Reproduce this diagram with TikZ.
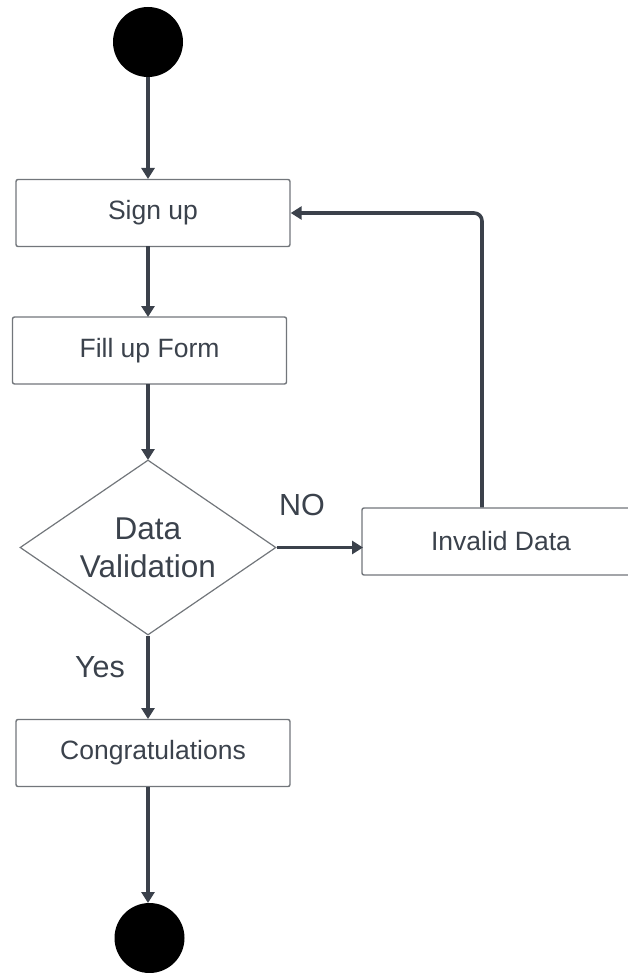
\documentclass[tikz,border=0pt]{standalone}
\usepackage{fontspec}
\setmainfont{Liberation Sans}
\usetikzlibrary{shapes.geometric,arrows.meta}
\definecolor{lineC}{HTML}{3B414B}
\definecolor{boxC}{HTML}{72767B}
\definecolor{txtC}{HTML}{3B424C}
\begin{document}
\begin{tikzpicture}[x=1pt,y=-1pt,
  actbox/.style={draw=boxC,line width=1.4pt,rounded corners=2pt,fill=white,
    minimum width=274pt,minimum height=67pt,inner sep=0pt,
    font=\fontsize{26.5}{30}\selectfont,text=txtC},
  dot/.style={circle,fill=black,draw=none,minimum size=70pt,inner sep=0pt},
  conn/.style={draw=lineC,line width=3.6pt,-{Triangle[length=11pt,width=13pt]}},
  lbl/.style={font=\fontsize{30.5}{34}\selectfont,text=txtC}]
\useasboundingbox (0,0) rectangle (627,973);
\node[dot] (start) at (148,42) {};
\node[actbox] (signup) at (153,213) {Sign up};
\node[actbox] (fill) at (149.5,350.5) {Fill up Form};
\node[diamond,draw=boxC,line width=1.2pt,minimum width=256pt,minimum height=175pt,
  inner sep=0pt,aspect=1.46,text=txtC,align=center,
  font=\fontsize{31.5}{38}\selectfont] (dv) at (148,547.5) {Data\\Validation};
\node[actbox,minimum width=278pt] (inv) at (501,541.5) {Invalid Data};
\node[actbox] (cong) at (153,753) {Congratulations};
\node[dot] (end) at (149.5,938) {};
\coordinate (corner) at (482,213);
\draw[conn] (start.south -| 148,0) -- (148,179);
\draw[conn] (148,246.5) -- (148,317);
\draw[conn] (148,384) -- (148,460);
\draw[conn] (dv.east) -- (363,547.5);
\draw[conn,rounded corners=8pt]
  (inv.north -| corner) -- (corner) -- (signup.east);
\draw[conn] (dv.south) -- (148,719);
\draw[conn] (148,787) -- (148,903);
\node[lbl] (no) at (302,505) {NO};
\node[lbl] (yes) at (100,667) {Yes};
\end{tikzpicture}
\end{document}
